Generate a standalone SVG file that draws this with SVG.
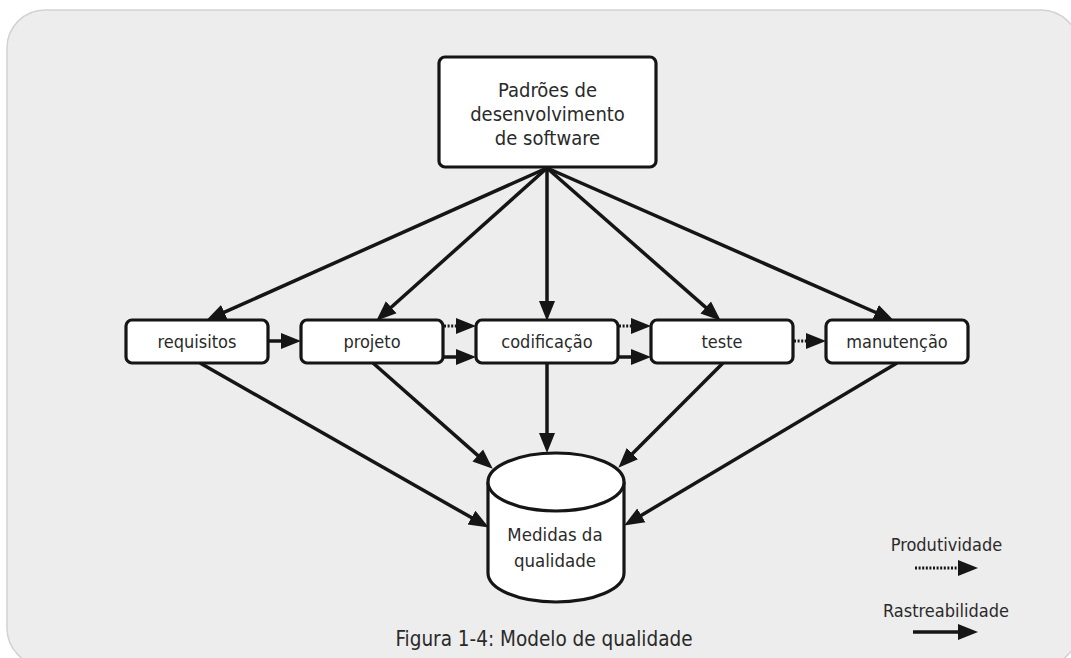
<svg xmlns="http://www.w3.org/2000/svg" width="1071" height="658" viewBox="0 0 1071 658">
<defs>
<style>
.node{fill:#ffffff;stroke:#151515;stroke-width:3.2}
.lbl{font-family:"DejaVu Sans Condensed","DejaVu Sans","Verdana",sans-serif;fill:#2a2a2a;text-anchor:middle}
.c{stroke:#151515;stroke-width:3.5;fill:none}
.d{stroke:#151515;stroke-width:3;fill:none;stroke-dasharray:2 1.6}
</style>
<marker id="ah" markerUnits="userSpaceOnUse" markerWidth="22" markerHeight="18" refX="9" refY="9" orient="auto">
<path d="M0,1 L20,9 L0,17 z" fill="#151515"/>
</marker>
</defs>
<rect x="0" y="0" width="1071" height="658" fill="#ffffff"/>
<rect x="7" y="10" width="1072" height="656" rx="38" fill="#ededed" stroke="#d2d2d2" stroke-width="1.5"/>

<g id="connectors">
<line class="c" x1="547" y1="168" x2="216.1" y2="315.9" marker-end="url(#ah)"/>
<line class="c" x1="547" y1="168" x2="384.5" y2="313.3" marker-end="url(#ah)"/>
<line class="c" x1="547" y1="168" x2="547" y2="310" marker-end="url(#ah)"/>
<line class="c" x1="547" y1="168" x2="712.5" y2="313.4" marker-end="url(#ah)"/>
<line class="c" x1="547" y1="168" x2="883.8" y2="316" marker-end="url(#ah)"/>
<line class="c" x1="200" y1="363" x2="479.3" y2="522.1" marker-end="url(#ah)"/>
<line class="c" x1="373" y1="363" x2="484.5" y2="461.4" marker-end="url(#ah)"/>
<line class="c" x1="547" y1="363" x2="547" y2="442" marker-end="url(#ah)"/>
<line class="c" x1="723" y1="363" x2="626.1" y2="459.9" marker-end="url(#ah)"/>
<line class="c" x1="897" y1="363" x2="633.6" y2="519.9" marker-end="url(#ah)"/>
<line class="c" x1="268" y1="341" x2="290" y2="341" marker-end="url(#ah)"/>
<line class="d" x1="444" y1="326" x2="465" y2="326" marker-end="url(#ah)"/>
<line class="c" x1="443" y1="357" x2="465" y2="357" marker-end="url(#ah)"/>
<line class="d" x1="619" y1="326" x2="640" y2="326" marker-end="url(#ah)"/>
<line class="c" x1="618" y1="357" x2="640" y2="357" marker-end="url(#ah)"/>
<line class="d" x1="794" y1="341" x2="815" y2="341" marker-end="url(#ah)"/>
</g>

<g id="padroes">
<rect class="node" x="439" y="57" width="217" height="110" rx="6"/>
<text class="lbl" x="547.5" y="97" font-size="20">Padrões de</text>
<text class="lbl" x="547.5" y="121" font-size="20">desenvolvimento</text>
<text class="lbl" x="547.5" y="145" font-size="20">de software</text>
</g>

<g id="requisitos">
<rect class="node" x="126" y="320" width="142" height="43" rx="6"/>
<text class="lbl" x="197" y="347.5" font-size="18">requisitos</text>
</g>
<g id="projeto">
<rect class="node" x="301" y="320" width="142" height="43" rx="6"/>
<text class="lbl" x="372" y="347.5" font-size="18">projeto</text>
</g>
<g id="codificacao">
<rect class="node" x="476" y="320" width="142" height="43" rx="6"/>
<text class="lbl" x="547" y="347.5" font-size="18">codificação</text>
</g>
<g id="teste">
<rect class="node" x="651" y="320" width="142" height="43" rx="6"/>
<text class="lbl" x="722" y="347.5" font-size="18">teste</text>
</g>
<g id="manutencao">
<rect class="node" x="826" y="320" width="142" height="43" rx="6"/>
<text class="lbl" x="897" y="347.5" font-size="18">manutenção</text>
</g>

<g id="medidas">
<path class="node" d="M488,482 L488,573 A68,29 0 0 0 624,573 L624,482"/>
<ellipse class="node" cx="556" cy="482" rx="68" ry="29"/>
<text class="lbl" x="555" y="541" font-size="18.5">Medidas da</text>
<text class="lbl" x="555" y="567" font-size="18.5">qualidade</text>
</g>

<g id="legenda">
<text class="lbl" x="946.5" y="551" font-size="18">Produtividade</text>
<line class="d" x1="915" y1="568" x2="967" y2="568" marker-end="url(#ah)"/>
<text class="lbl" x="946" y="617" font-size="18">Rastreabilidade</text>
<line class="c" x1="913" y1="632" x2="967" y2="632" marker-end="url(#ah)"/>
</g>

<text id="caption" class="lbl" x="544" y="646" font-size="20.5">Figura 1-4: Modelo de qualidade</text>
</svg>
